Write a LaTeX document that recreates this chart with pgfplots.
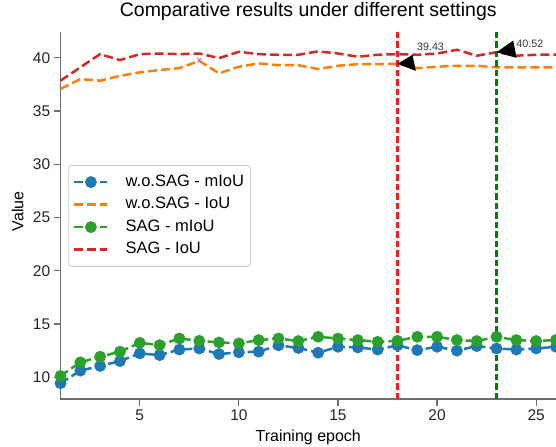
\documentclass[border=0pt]{standalone}
\usepackage{fontspec}
\setmainfont{Liberation Sans}
\usepackage{pgfplots}
\pgfplotsset{compat=1.18}
\definecolor{tabblue}{HTML}{1F77B4}
\definecolor{taborange}{HTML}{FF7F0E}
\definecolor{tabgreen}{HTML}{2CA02C}
\definecolor{tabred}{HTML}{D62728}
\definecolor{vred}{HTML}{FF1A1A}
\definecolor{vgreen}{HTML}{008000}
\definecolor{spinecol}{HTML}{6E6E6E}
\begin{document}
\begin{tikzpicture}
\begin{axis}[
  at={(0,0)}, anchor=south west,
  scale only axis, width=495.5bp, height=367.3bp,
  xmin=1, xmax=26, ymin=7.93, ymax=42.42,
  axis x line*=bottom, axis y line*=left,
  axis line style={draw=spinecol, line width=1.6bp},
  xtick={5,10,15,20,25}, ytick={10,15,20,25,30,35,40},
  tick align=outside, major tick length=6.5bp,
  tick style={draw=spinecol, line width=1.2bp},
  /pgf/number format/assume math mode=true,
  ticklabel style={font=\fontsize{15.5bp}{18bp}\selectfont, text=black!85},
  xticklabel style={inner sep=0pt, text height=11.1bp, text depth=0pt, yshift=-3.5bp},
  yticklabel style={inner sep=0pt, xshift=-3.6bp},
  title={Comparative results under different settings},
  title style={font=\fontsize{19.5bp}{23bp}\selectfont, at={(axis description cs:0.5,1)}, anchor=base, yshift=9.3bp},
  xlabel={Training epoch},
  xlabel style={font=\fontsize{16bp}{19bp}\selectfont, at={(axis description cs:0.5,0)}, anchor=base, yshift=-41.7bp},
  ylabel={Value},
  ylabel style={font=\fontsize{16bp}{19bp}\selectfont, at={(axis description cs:-0.0751,0.512)}, anchor=base},
  legend cell align=left,
  legend style={at={(axis description cs:0.0157,0.638)}, anchor=north west,
    draw=black!20, rounded corners=3bp, fill=white, line width=0.8bp,
    font=\fontsize{16.5bp}{19bp}\selectfont,
    inner xsep=4.5bp, inner ysep=7bp, row sep=3bp,
    /tikz/every odd column/.append style={column sep=15bp},
    nodes={inner sep=2bp, text height=12bp, text depth=3.5bp}},
  legend image code/.code={\draw[mark repeat=2,mark phase=2,#1] plot coordinates {(0bp,0bp) (16.5bp,0bp) (33bp,0bp)};},
  clip=true,
]
\addplot[tabblue, line width=2.5bp, dash pattern=on 9bp off 4bp, mark=*, mark size=4.6bp, mark options={solid}] coordinates {
(1,9.44) (2,10.62) (3,11.06) (4,11.52) (5,12.24) (6,12.08) (7,12.6) (8,12.7) (9,12.18) (10,12.34)
(11,12.4) (12,13.0) (13,12.75) (14,12.3) (15,12.86) (16,12.8) (17,12.6) (18,13.0) (19,12.55) (20,12.86)
(21,12.5) (22,12.93) (23,12.7) (24,12.6) (25,12.7) (26,12.86)};
\addlegendentry{w.o.SAG - mIoU}
\addplot[taborange, line width=2.5bp, dash pattern=on 9bp off 4bp] coordinates {
(1,37.07) (2,38.0) (3,37.85) (4,38.3) (5,38.63) (6,38.85) (7,39.03) (8,39.7) (9,38.54) (10,39.16)
(11,39.47) (12,39.3) (13,39.3) (14,38.94) (15,39.25) (16,39.4) (17,39.4) (18,39.43) (19,39.03) (20,39.16)
(21,39.25) (22,39.25) (23,39.1) (24,39.1) (25,39.1) (26,39.1)};
\addlegendentry{w.o.SAG - IoU}
\addplot[tabgreen, line width=2.5bp, dash pattern=on 9bp off 4bp, mark=*, mark size=4.6bp, mark options={solid}] coordinates {
(1,10.12) (2,11.4) (3,11.93) (4,12.4) (5,13.23) (6,13.02) (7,13.64) (8,13.42) (9,13.27) (10,13.18)
(11,13.49) (12,13.64) (13,13.4) (14,13.8) (15,13.64) (16,13.49) (17,13.33) (18,13.42) (19,13.8) (20,13.8)
(21,13.49) (22,13.4) (23,13.8) (24,13.49) (25,13.4) (26,13.5)};
\addlegendentry{SAG - mIoU}
\addplot[tabred, line width=2.5bp, dash pattern=on 9bp off 4bp] coordinates {
(1,37.85) (2,39.1) (3,40.34) (4,39.78) (5,40.34) (6,40.4) (7,40.34) (8,40.4) (9,39.97) (10,40.56)
(11,40.34) (12,40.28) (13,40.28) (14,40.6) (15,40.4) (16,40.1) (17,40.28) (18,40.34) (19,40.28) (20,40.4)
(21,40.75) (22,40.19) (23,40.52) (24,40.2) (25,40.28) (26,40.3)};
\addlegendentry{SAG - IoU}
\addplot[only marks, mark=x, mark size=2.8bp, color=violet!55, line width=0.9bp, forget plot] coordinates {(8,39.8)};
\addplot[draw=vred, line width=2.2bp, dash pattern=on 6.5bp off 3bp, forget plot] coordinates {(18,7.93) (18,42.42)};
\addplot[draw=vgreen, line width=2.2bp, dash pattern=on 6.5bp off 3bp, forget plot] coordinates {(23,7.93) (23,42.42)};
\fill[black] (axis cs:18,39.43) -- +(15bp,9bp) -- +(18.4bp,-7bp) -- cycle;
\fill[black] (axis cs:23,40.52) -- +(16.7bp,11.7bp) -- +(20bp,-5.6bp) -- cycle;
\node[anchor=west, inner sep=0pt, font=\fontsize{10.7bp}{12bp}\selectfont, text=black!80, xshift=19.5bp, yshift=16.7bp] at (axis cs:18,39.43) {39.43};
\node[anchor=west, inner sep=0pt, font=\fontsize{10.7bp}{12bp}\selectfont, text=black!80, xshift=19.7bp, yshift=8.4bp] at (axis cs:23,40.52) {40.52};
\end{axis}
\pgfresetboundingbox
\path (-60.5bp,-47.7bp) rectangle (495.5bp,399.3bp);
\end{tikzpicture}
\end{document}
